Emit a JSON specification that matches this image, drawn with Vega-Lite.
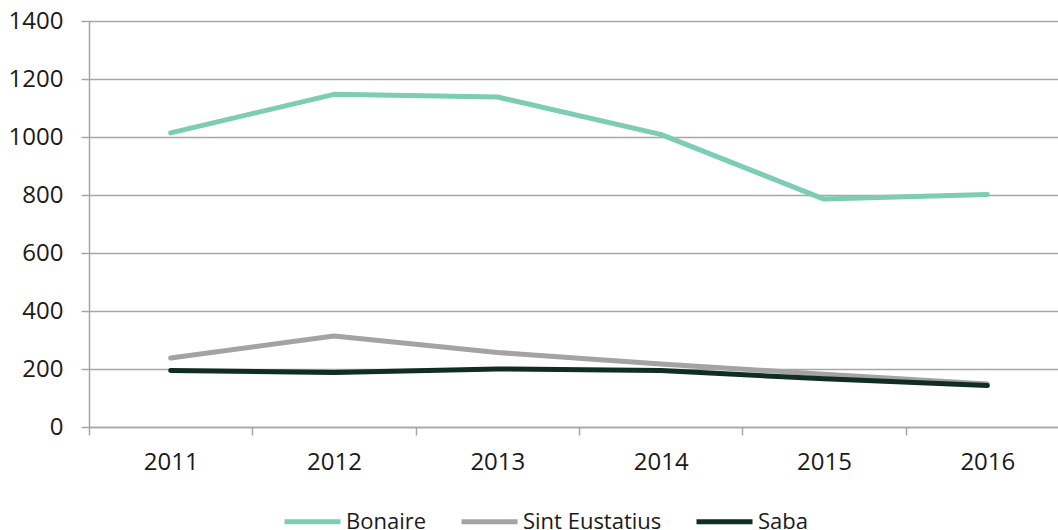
{
  "$schema": "https://vega.github.io/schema/vega-lite/v6.json",
  "width": 969,
  "height": 406,
  "autosize": {"type": "none"},
  "padding": {"left": 89, "top": 21, "right": 0, "bottom": 103},
  "background": "white",
  "config": {"view": {"stroke": null}, "font": "Open Sans"},
  "data": {
    "values": [
      {"year": "2011", "island": "Bonaire", "value": 1014},
      {"year": "2012", "island": "Bonaire", "value": 1147},
      {"year": "2013", "island": "Bonaire", "value": 1138},
      {"year": "2014", "island": "Bonaire", "value": 1009},
      {"year": "2015", "island": "Bonaire", "value": 786},
      {"year": "2016", "island": "Bonaire", "value": 802},
      {"year": "2011", "island": "Sint Eustatius", "value": 238},
      {"year": "2012", "island": "Sint Eustatius", "value": 314},
      {"year": "2013", "island": "Sint Eustatius", "value": 257},
      {"year": "2014", "island": "Sint Eustatius", "value": 217},
      {"year": "2015", "island": "Sint Eustatius", "value": 182},
      {"year": "2016", "island": "Sint Eustatius", "value": 148},
      {"year": "2011", "island": "Saba", "value": 195},
      {"year": "2012", "island": "Saba", "value": 188},
      {"year": "2013", "island": "Saba", "value": 200},
      {"year": "2014", "island": "Saba", "value": 195},
      {"year": "2015", "island": "Saba", "value": 166},
      {"year": "2016", "island": "Saba", "value": 143}
    ]
  },
  "mark": {"type": "line", "strokeWidth": 5, "strokeCap": "round", "strokeJoin": "round"},
  "encoding": {
    "x": {
      "field": "year",
      "type": "ordinal",
      "scale": {"type": "band", "range": [0, 980], "paddingInner": 0, "paddingOuter": 0},
      "axis": {
        "title": null,
        "labelAngle": 0,
        "tickBand": "extent",
        "grid": false,
        "domainColor": "#a6a6a6",
        "domainWidth": 1.5,
        "tickColor": "#a6a6a6",
        "tickWidth": 1.5,
        "tickSize": 8,
        "labelFontSize": 24,
        "labelColor": "#1a1a1a",
        "labelPadding": 15
      }
    },
    "y": {
      "field": "value",
      "type": "quantitative",
      "scale": {"domain": [0, 1400], "nice": false},
      "axis": {
        "title": null,
        "format": "d",
        "values": [0, 200, 400, 600, 800, 1000, 1200, 1400],
        "grid": true,
        "gridColor": "#a6a6a6",
        "gridWidth": 1.5,
        "domainColor": "#a6a6a6",
        "domainWidth": 1.5,
        "tickColor": "#a6a6a6",
        "tickWidth": 1.5,
        "tickSize": 8,
        "labelFontSize": 24,
        "labelColor": "#1a1a1a",
        "labelPadding": 18
      }
    },
    "color": {
      "field": "island",
      "type": "nominal",
      "scale": {
        "domain": ["Bonaire", "Sint Eustatius", "Saba"],
        "range": ["#7ccdb1", "#a3a3a3", "#0f2d21"]
      },
      "legend": {
        "orient": "none",
        "legendX": 193,
        "legendY": 470,
        "direction": "horizontal",
        "title": null,
        "symbolType": "stroke",
        "symbolSize": 3136,
        "symbolStrokeWidth": 5,
        "labelFontSize": 22,
        "labelOffset": 3,
        "columnPadding": 24,
        "labelColor": "#1a1a1a"
      }
    }
  }
}
